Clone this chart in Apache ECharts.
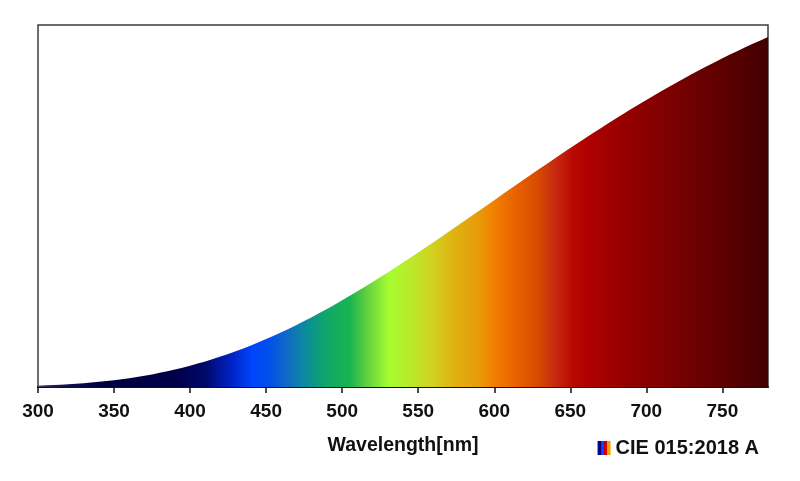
<!DOCTYPE html>
<html>
<head>
<meta charset="utf-8">
<script src="https://cdn.jsdelivr.net/npm/echarts@6/dist/echarts.min.js"></script>
<style>
html,body{margin:0;padding:0;background:#fff;}
#c{width:800px;height:481px;}
</style>
</head>
<body>
<div id="c"></div>
<script>
// Wavelengths (nm)
const wavelengths = [300,305,310,315,320,325,330,335,340,345,350,355,360,365,370,375,380,385,390,395,400,405,410,415,420,425,430,435,440,445,450,455,460,465,470,475,480,485,490,495,500,505,510,515,520,525,530,535,540,545,550,555,560,565,570,575,580,585,590,595,600,605,610,615,620,625,630,635,640,645,650,655,660,665,670,675,680,685,690,695,700,705,710,715,720,725,730,735,740,745,750,755,760,765,770,775,780];
// Relative spectral power (CIE illuminant A)
const spd = [0.930,1.128,1.358,1.622,1.925,2.270,2.659,3.096,3.582,4.122,4.716,5.368,6.080,6.854,7.692,8.596,9.795,10.900,12.085,13.354,14.708,16.148,17.675,19.291,20.995,22.788,24.671,26.643,28.703,30.851,33.086,35.407,37.812,40.300,42.869,45.517,48.242,51.042,53.913,56.854,59.861,62.932,66.064,69.253,72.496,75.790,79.133,82.519,85.947,89.412,92.912,96.442,100.000,103.582,107.184,110.803,114.436,118.080,121.731,125.386,129.043,132.697,136.346,139.988,143.618,147.235,150.836,154.418,157.979,161.516,165.028,168.510,171.963,175.383,178.769,182.118,185.429,188.701,191.931,195.118,198.261,201.359,204.409,207.411,210.365,213.268,216.120,218.920,221.667,224.361,227.000,229.585,232.115,234.589,237.008,239.370,241.675];
// Tick labels
const tickValues = [300,350,400,450,500,550,600,650,700,750];
const seriesName = 'CIE 015:2018 A';
const axisName = 'Wavelength[nm]';

// Spectral fill colours by wavelength
const colorNm = [300,315,340,390,410,428,441,452,463,476,490,505,516,531,546,560,575,590,600,614,628,640,652,665,690,720,750,780];
const colorHex = ['#3a3a6a','#141450','#000040','#000048','#00086a','#0024c8','#0046ff','#0050e8','#1068c8','#0a8c9c','#10a868','#18b450','#60d040','#a6fc30','#bce828','#d2d020','#e0b010','#e89a08','#f27f00','#e86200','#d84c00','#c82a10','#b80800','#ac0000','#920000','#780000','#5e0000','#420000'];

const chart = echarts.init(document.getElementById('c'), null, {renderer:'canvas'});
const xMin = 300, xMax = 780;
const stops = colorNm.map((nm,i)=>({offset:(nm-xMin)/(xMax-xMin), color:colorHex[i]}));
const fill = new echarts.graphic.LinearGradient(0,0,1,0,stops);
const legendIcon = new echarts.graphic.LinearGradient(0,0,1,0,[
  {offset:0,color:'#000080'},{offset:0.25,color:'#000080'},
  {offset:0.25,color:'#1040ff'},{offset:0.5,color:'#1040ff'},
  {offset:0.5,color:'#d00000'},{offset:0.75,color:'#d00000'},
  {offset:0.75,color:'#f0a000'},{offset:1,color:'#f0a000'}
]);
const font = "'Liberation Sans', Arial, sans-serif";

chart.setOption({
  animation:false,
  backgroundColor:'#fff',
  grid:{left:38,right:32,top:25,bottom:94,show:true,borderColor:'#3c3c3c',borderWidth:1.5,backgroundColor:'transparent'},
  legend:{
    show:true, right:36, top:433, icon:'rect', itemWidth:13, itemHeight:14, itemGap:6,
    data:[{name:seriesName, itemStyle:{color:legendIcon}}],
    textStyle:{fontFamily:font,fontWeight:'bold',fontSize:20,color:'#111'}
  },
  xAxis:{
    type:'value', min:xMin, max:xMax, interval:50,
    name:axisName, nameLocation:'middle', nameGap:49,
    nameTextStyle:{fontFamily:font,fontWeight:'bold',fontSize:19.5,color:'#111',verticalAlign:'top'},
    axisLine:{show:true,onZero:false,lineStyle:{color:'#111',width:2}},
    axisTick:{show:true,length:6,customValues:tickValues,lineStyle:{color:'#111',width:1.5}},
    axisLabel:{customValues:tickValues,margin:15,fontFamily:font,fontWeight:'bold',fontSize:19,color:'#111'},
    splitLine:{show:false}
  },
  yAxis:{
    type:'value', min:0, max:250,
    axisLine:{show:false}, axisTick:{show:false}, axisLabel:{show:false}, splitLine:{show:false}
  },
  series:[{
    name:seriesName, type:'line', showSymbol:false, symbol:'none',
    data:wavelengths.map((w,i)=>[w,spd[i]]),
    lineStyle:{width:0},
    itemStyle:{color:legendIcon},
    areaStyle:{color:fill, opacity:1}
  }]
});
</script>
</body>
</html>
